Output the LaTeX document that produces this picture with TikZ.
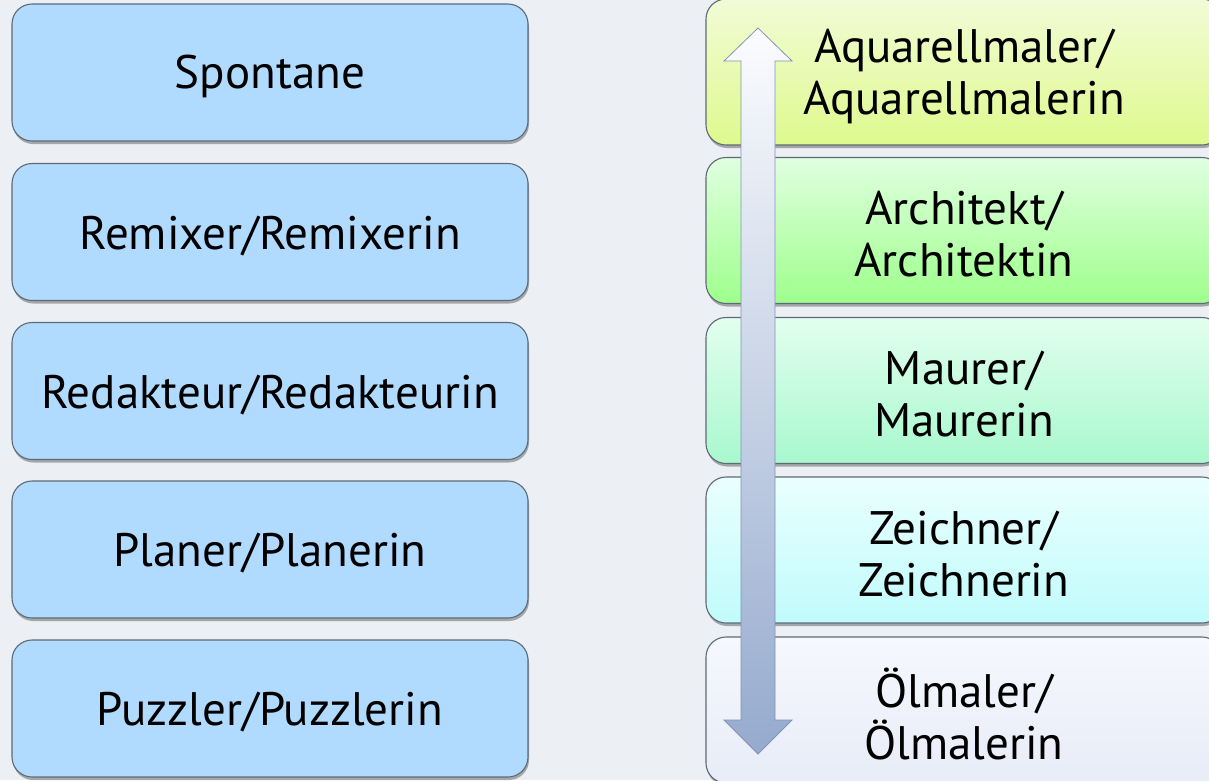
\documentclass[tikz,border=0pt]{standalone}
\usepackage{fontspec}
\setmainfont{PT Sans}
\usetikzlibrary{shadows}
\definecolor{bg}{HTML}{ECF0F4}
\definecolor{leftfill}{HTML}{B0DBFF}
\definecolor{edge}{HTML}{5E6A76}
\definecolor{aTop}{HTML}{F2FBD6}
\definecolor{aBot}{HTML}{DEFA8E}
\definecolor{bTop}{HTML}{E0FFE0}
\definecolor{bBot}{HTML}{9EFF8C}
\definecolor{cTop}{HTML}{E2FFEE}
\definecolor{cBot}{HTML}{A8F8CE}
\definecolor{dTop}{HTML}{EAFFFF}
\definecolor{dBot}{HTML}{C0FBFB}
\definecolor{eTop}{HTML}{F6F8FE}
\definecolor{eBot}{HTML}{E8ECF7}
\definecolor{arTop}{HTML}{FBFCFE}
\definecolor{arBot}{HTML}{95AACE}
\definecolor{arEdge}{HTML}{7F94B6}
\tikzset{
  card/.style={draw=edge, line width=1.1pt, rounded corners=20pt,
    minimum width=516pt,
    drop shadow={shadow xshift=1pt, shadow yshift=-3pt, opacity=0.3, fill=black}},
  leftcard/.style={card, fill=leftfill, minimum height=137pt},
  rightcard/.style={card, minimum height=146pt},
  cardtext/.style={text width=500pt, align=center, yshift=-4pt,
    font=\fontsize{47}{52}\selectfont},
}
\begin{document}
\begin{tikzpicture}[x=1pt,y=-1pt]
\useasboundingbox (0,0) rectangle (1209,780);
\clip (0,0) rectangle (1209,780);
\fill[bg] (0,0) rectangle (1209,780);
% left column
\node[leftcard] (l1) at (270,72.5) {};
\node[leftcard] (l2) at (270,232) {};
\node[leftcard] (l3) at (270,391) {};
\node[leftcard] (l4) at (270,549.5) {};
\node[leftcard] (l5) at (270,708.5) {};
\node[cardtext] (tl1) at (l1) {Spontane};
\node[cardtext] (tl2) at (l2) {Remixer/Remixerin};
\node[cardtext] (tl3) at (l3) {Redakteur/Redakteurin};
\node[cardtext] (tl4) at (l4) {Planer/Planerin};
\node[cardtext] (tl5) at (l5) {Puzzler/Puzzlerin};
% right column
\node[rightcard, top color=aTop, bottom color=aBot] (r1) at (964,72) {};
\node[rightcard, top color=bTop, bottom color=bBot] (r2) at (964,230.5) {};
\node[rightcard, top color=cTop, bottom color=cBot] (r3) at (964,390.5) {};
\node[rightcard, top color=dTop, bottom color=dBot] (r4) at (964,550) {};
\node[rightcard, top color=eTop, bottom color=eBot] (r5) at (964,710) {};
\node[cardtext] (tr1) at (r1) {Aquarellmaler/\\Aquarellmalerin};
\node[cardtext] (tr2) at (r2) {Architekt/\\Architektin};
\node[cardtext] (tr3) at (r3) {Maurer/\\Maurerin};
\node[cardtext] (tr4) at (r4) {Zeichner/\\Zeichnerin};
\node[cardtext] (tr5) at (r5) {Ölmaler/\\Ölmalerin};
% double arrow
\draw[draw=arEdge, line width=0.8pt, top color=arTop, bottom color=arBot]
  (758,28) -- (792,61) -- (775,61) -- (775,720) -- (792,720) -- (758,754)
  -- (724,720) -- (741,720) -- (741,61) -- (724,61) -- cycle;
\end{tikzpicture}
\end{document}
